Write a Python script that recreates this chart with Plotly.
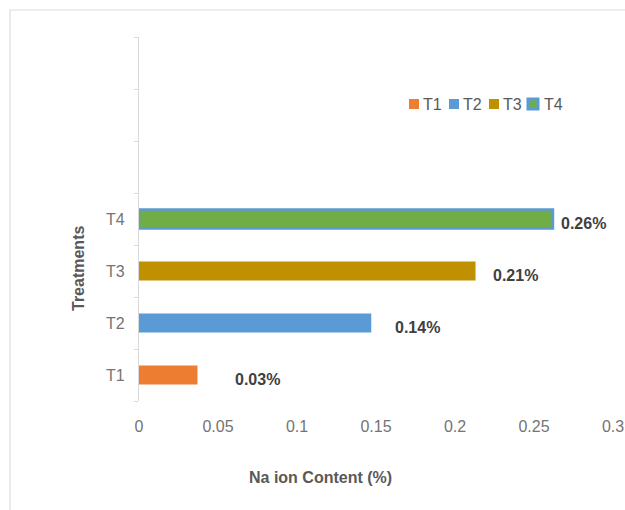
import plotly.graph_objects as go

treatments = ["T1", "T2", "T3", "T4"]
values = [0.037, 0.147, 0.213, 0.262]
value_labels = ["0.03%", "0.14%", "0.21%", "0.26%"]
x_ticks = [0, 0.05, 0.1, 0.15, 0.2, 0.25, 0.3]
x_tick_labels = ["0", "0.05", "0.1", "0.15", "0.2", "0.25", "0.3"]

fill_colors = ["#ED7D31", "#5B9BD5", "#BF9000", "#70AD47"]
line_colors = ["#ED7D31", "#5B9BD5", "#BF9000", "#5B9BD5"]
line_widths = [0, 0, 0, 2.5]
label_xshift = [36, 22, 15, 6]

FONT = "Liberation Sans, Arial, sans-serif"

W, H = 625, 510
# plot area in window pixels: x 139..613, y 37..401
L, R, T, B = 139, 625 - 613, 37, 510 - 401
pw, ph = W - L - R, H - T - B


def px(xp):
    return (xp - L) / pw


def py(yp):
    return (H - B - yp) / ph


fig = go.Figure()
for i, t in enumerate(treatments):
    fig.add_trace(go.Bar(
        x=[values[i]], y=[i], orientation="h", name=t, width=0.37,
        marker=dict(color=fill_colors[i],
                    line=dict(color=line_colors[i], width=line_widths[i])),
        hoverinfo="x+name",
    ))
    fig.add_annotation(x=values[i], y=i, text="<b>%s</b>" % value_labels[i],
                       xanchor="left", yanchor="middle", showarrow=False,
                       xshift=label_xshift[i], yshift=-4,
                       font=dict(family=FONT, size=16, color="#404040"))

# legend (drawn as swatches + text, compact like the reference)
leg_x0, leg_step, leg_y = 409, 40, 104
for i, t in enumerate(treatments):
    sx = leg_x0 + i * leg_step - (1 if i == 3 else 0)
    size = 10
    lw = 3 if line_widths[i] > 0 else 0
    fig.add_shape(type="rect", xref="paper", yref="paper",
                  x0=px(sx), x1=px(sx + size),
                  y0=py(leg_y + size / 2), y1=py(leg_y - size / 2),
                  fillcolor=fill_colors[i],
                  line=dict(color=line_colors[i], width=lw))
    fig.add_annotation(x=px(sx + size + 2 + (2 if i == 3 else 0)), y=py(leg_y),
                       xref="paper", yref="paper", text=t, showarrow=False,
                       xanchor="left", yanchor="middle",
                       font=dict(family=FONT, size=16, color="#595959"))

fig.add_annotation(x=px(320), y=py(477), xref="paper", yref="paper",
                   text="<b>Na ion Content (%)</b>", showarrow=False,
                   xanchor="center", yanchor="middle",
                   font=dict(family=FONT, size=16, color="#595959"))
fig.add_annotation(x=px(78), y=py(269), xref="paper", yref="paper",
                   text="<b>Treatments</b>", showarrow=False, textangle=-90,
                   xanchor="center", yanchor="middle",
                   font=dict(family=FONT, size=16, color="#595959"))

fig.add_shape(type="rect", xref="paper", yref="paper",
              x0=px(10), x1=px(640), y0=py(530), y1=py(10),
              line=dict(color="#dcdcdc", width=1.2), layer="below")

fig.update_layout(
    width=W, height=H,
    margin=dict(l=L, r=R, t=T, b=B, autoexpand=False),
    paper_bgcolor="white", plot_bgcolor="white",
    barmode="overlay",
    showlegend=False,
    xaxis=dict(range=[0, 0.3], tickvals=x_ticks, ticktext=x_tick_labels,
               showgrid=False, zeroline=False, showline=False, ticks="",
               ticklabelstandoff=14,
               tickfont=dict(family=FONT, size=16, color="#747474")),
    yaxis=dict(range=[-0.5, 6.5], tickvals=list(range(len(treatments))),
               ticktext=treatments, showgrid=False, zeroline=False,
               showline=True, linecolor="#d9d9d9", linewidth=1.2,
               ticks="", ticklabelstandoff=10,
               tickfont=dict(family=FONT, size=16, color="#747474")),
)
fig.update_yaxes(minor=dict(tick0=-0.5, dtick=1, ticks="outside", ticklen=4,
                            tickcolor="#d9d9d9", tickwidth=1.2,
                            showgrid=False))
fig.update_layout(font=dict(family=FONT))

fig.write_html(
    "out.html",
    config={"displayModeBar": False},
    post_script="document.body.style.margin='0';"
                "document.body.style.overflow='hidden';",
)
